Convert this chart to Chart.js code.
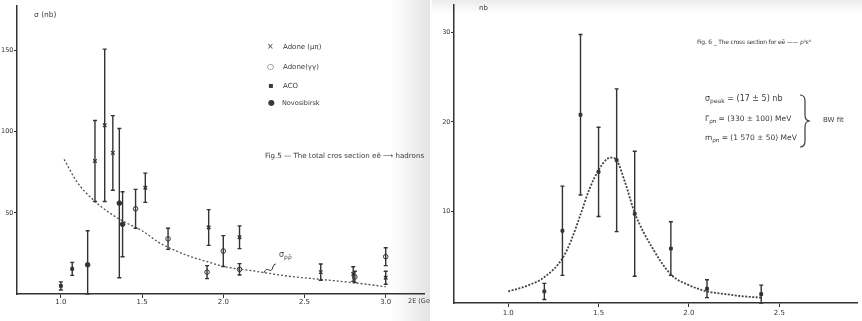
<!DOCTYPE html>
<html>
<head>
<meta charset="utf-8">
<script src="https://cdn.jsdelivr.net/npm/chart.js@4.4.0/dist/chart.umd.min.js"></script>
<style>
  body { margin: 0; width: 862px; height: 321px; background: #fff; overflow: hidden;
         font-family: "DejaVu Sans", sans-serif; color: #3a3a3a; }
  .panel { position: absolute; top: 0; width: 430px; height: 321px; overflow: hidden; }
  #left { left: 0; background: linear-gradient(to right, #fff 0, #fff 91%, #e4e4e4 100%); }
  #right { left: 432px; background: linear-gradient(to bottom, #ececec 0, #fff 14px); }
  .txt { position: absolute; white-space: nowrap; line-height: 1; }
  sub { font-size: 75%; vertical-align: -2px; }
</style>
</head>
<body>
<div id="left" class="panel">
  <canvas id="fig5" width="430" height="321"></canvas>
  <div class="txt" style="left:34px;top:11px;font-size:7.5px">σ (nb)</div>
  <div class="txt" style="left:267px;top:43px;font-size:8px">×</div>
  <div class="txt" style="left:283px;top:44px;font-size:7px">Adone (μπ)</div>
  <div class="txt" style="left:267px;top:63px;font-size:8px">○</div>
  <div class="txt" style="left:283px;top:64px;font-size:7px">Adone(γγ)</div>
  <div class="txt" style="left:268px;top:82px;font-size:8px">▪</div>
  <div class="txt" style="left:283px;top:83px;font-size:7px">ACO</div>
  <div class="txt" style="left:268px;top:99px;font-size:8px">●</div>
  <div class="txt" style="left:282px;top:100px;font-size:6.5px">Novosibirsk</div>
  <div class="txt" style="left:265px;top:152px;font-size:7.1px">Fig.5 — The total cros section eē ⟶ hadrons</div>
  <div class="txt" style="left:279px;top:251px;font-size:8px">σ<sub>ρρ̄</sub></div>
  <div class="txt" style="left:408px;top:298px;font-size:6.5px">2E (GeV)</div>
</div>
<div id="right" class="panel">
  <canvas id="fig6" width="430" height="321"></canvas>
  <div class="txt" style="left:47px;top:5px;font-size:7px">nb</div>
  <div class="txt" style="left:265px;top:39px;font-size:6px;letter-spacing:-0.2px">Fig. 6 _ The cross section for eē —— ρ⁰ε⁰</div>
  <div class="txt" style="left:273px;top:95px;font-size:8px">σ<sub>peak</sub> = (17 ± 5) nb</div>
  <div class="txt" style="left:273px;top:115px;font-size:7.5px">Γ<sub>ρπ</sub> = (330 ± 100) MeV</div>
  <div class="txt" style="left:273px;top:134px;font-size:7.5px">m<sub>ρπ</sub> = (1 570 ± 50) MeV</div>
  <svg class="txt" style="left:366px;top:93px" width="14" height="56">
    <path d="M2 2 Q7 2 7 8 L7 22 Q7 28 12 28 Q7 28 7 34 L7 48 Q7 54 2 54" fill="none" stroke="#3a3a3a" stroke-width="1.2"/>
  </svg>
  <div class="txt" style="left:391px;top:117px;font-size:7px">BW fit</div>
</div>
<script>
// ---- Fig.5 : total cross section e+e- -> hadrons ----
const adoneMuX = [1.21, 1.27, 1.32, 1.52, 1.91, 2.10, 2.60, 2.80, 3.00]
const adoneMuY = [82, 104, 87, 65.5, 41, 35, 13.5, 12.3, 10]
const adoneMuErr = [25, 47, 23, 9, 11, 7, 5, 4.5, 4]

const adoneGgX = [1.46, 1.66, 1.90, 2.00, 2.10, 2.81, 3.00]
const adoneGgY = [52.5, 34, 13.5, 26.5, 15.2, 10.5, 23]
const adoneGgErr = [12, 6.5, 4, 9.5, 3.5, 3.5, 5.5]

const acoX = [1.00, 1.07]
const acoY = [5, 15.5]
const acoErr = [2.5, 4]

const novoX = [1.165, 1.36, 1.38]
const novoY = [18, 56, 43]
const novoErr = [21, 46, 20]

const rhoRhoX = [1.02, 1.1, 1.2, 1.3, 1.4, 1.5, 1.6, 1.7, 1.8, 1.9, 2.0, 2.2, 2.4, 2.6, 2.8, 3.0]
const rhoRhoY = [83, 69, 58, 50, 44, 39, 32, 27, 23, 20, 17, 14, 11, 9, 7, 4.5]

const fig5XTicks = [1.0, 1.5, 2.0, 2.5, 3.0]
const fig5YTicks = [50, 100, 150]

// ---- Fig.6 : cross section e+e- -> rho0 eps0 ----
const fig6X = [1.2, 1.3, 1.4, 1.5, 1.6, 1.7, 1.9, 2.1, 2.4]
const fig6Y = [1.0, 7.8, 20.8, 14.4, 15.7, 9.7, 5.8, 1.3, 0.7]
const fig6Err = [0.9, 5, 9, 5, 8, 7, 3, 1, 1]

const bwX = [1.0, 1.1, 1.2, 1.3, 1.35, 1.4, 1.45, 1.5, 1.55, 1.57, 1.6, 1.65, 1.7, 1.8, 1.9, 2.0, 2.1, 2.2, 2.3, 2.4]
const bwY = [1.0, 1.6, 2.6, 4.7, 6.8, 9.6, 12.5, 14.6, 15.9, 16.0, 15.7, 13, 9.8, 5.8, 2.9, 1.7, 1.0, 0.7, 0.45, 0.3]

const fig6XTicks = [1.0, 1.5, 2.0, 2.5]
const fig6YTicks = [10, 20, 30]

const ink = '#333'

function pts(xs, ys) {
    return xs.map((x, i) => ({ x: x, y: ys[i] }))
}

// error bars with small caps
const errorBars = {
    id: 'errorBars',
    afterDatasetsDraw(chart) {
        const ctx = chart.ctx
        const xs = chart.scales.x, ys = chart.scales.y
        ctx.save()
        ctx.strokeStyle = ink
        ctx.lineWidth = 1.4
        chart.data.datasets.forEach(ds => {
            if (!ds.errs) return
            ds.data.forEach((p, i) => {
                const e = ds.errs[i]
                const px = xs.getPixelForValue(p.x)
                const top = ys.getPixelForValue(p.y + e)
                const bot = ys.getPixelForValue(Math.max(p.y - e, ys.min))
                ctx.beginPath()
                ctx.moveTo(px, top); ctx.lineTo(px, bot)
                ctx.moveTo(px - 2, top); ctx.lineTo(px + 2, top)
                ctx.moveTo(px - 2, bot); ctx.lineTo(px + 2, bot)
                ctx.stroke()
            })
        })
        ctx.restore()
    }
}

// little wavy pointer from the curve to the sigma label
const squiggle = {
    id: 'squiggle',
    afterDraw(chart) {
        if (chart.canvas.id != 'fig5') return
        const ctx = chart.ctx
        const x0 = chart.scales.x.getPixelForValue(2.25)
        const y0 = chart.scales.y.getPixelForValue(13)
        ctx.save()
        ctx.strokeStyle = ink
        ctx.lineWidth = 1
        ctx.beginPath()
        ctx.moveTo(x0, y0)
        ctx.quadraticCurveTo(x0 + 2, y0 - 5, x0 + 5, y0 - 3)
        ctx.quadraticCurveTo(x0 + 8, y0 - 1, x0 + 9, y0 - 6)
        ctx.quadraticCurveTo(x0 + 10, y0 - 9, x0 + 12, y0 - 9)
        ctx.stroke()
        ctx.restore()
    }
}

function axes(p) {
    return {
        x: {
            type: 'linear', min: p.xmin, max: p.xmax,
            afterBuildTicks: s => { s.ticks = p.xticks.map(v => ({ value: v })) },
            afterFit: s => { s.height = p.xh },
            ticks: { callback: v => v.toFixed(1), color: ink, font: { size: 7, family: 'DejaVu Sans' }, padding: p.xpad, maxRotation: 0 },
            grid: { drawOnChartArea: false, tickLength: 4, color: ink, lineWidth: 1 },
            border: { color: ink, width: 1.5 }
        },
        y: {
            type: 'linear', min: p.ymin, max: p.ymax,
            afterBuildTicks: s => { s.ticks = p.yticks.map(v => ({ value: v })) },
            afterFit: s => { s.width = p.yw },
            ticks: { color: ink, font: { size: 6.5, family: 'DejaVu Sans' }, padding: 0.5 },
            grid: { drawOnChartArea: false, tickLength: 3, color: ink, lineWidth: 1 },
            border: { color: ink, width: 1.5 }
        }
    }
}

const commonOpts = {
    responsive: false,
    animation: false,
    devicePixelRatio: 1,
    plugins: { legend: { display: false }, tooltip: { enabled: false } },
}

new Chart(document.getElementById('fig5'), {
    type: 'scatter',
    data: {
        datasets: [
            {
                label: 'rho rho', type: 'line', data: pts(rhoRhoX, rhoRhoY),
                borderColor: '#555', borderWidth: 1.3, borderDash: [2, 2],
                pointRadius: 0, tension: 0.4, cubicInterpolationMode: 'monotone', fill: false
            },
            {
                label: 'Adone (mu pi)', data: pts(adoneMuX, adoneMuY), errs: adoneMuErr,
                pointStyle: 'crossRot', pointRadius: 2.5, borderColor: ink, borderWidth: 1.3
            },
            {
                label: 'Adone (gamma gamma)', data: pts(adoneGgX, adoneGgY), errs: adoneGgErr,
                pointStyle: 'circle', pointRadius: 2.3, borderColor: ink, backgroundColor: '#fff', borderWidth: 1
            },
            {
                label: 'ACO', data: pts(acoX, acoY), errs: acoErr,
                pointStyle: 'rect', pointRadius: 2, borderColor: ink, backgroundColor: ink
            },
            {
                label: 'Novosibirsk', data: pts(novoX, novoY), errs: novoErr,
                pointStyle: 'circle', pointRadius: 2.3, borderColor: ink, backgroundColor: ink
            }
        ]
    },
    options: {
        ...commonOpts,
        layout: { padding: { top: 5, right: 0, left: 0, bottom: 0 } },
        scales: axes({ xmin: 0.73, xmax: 3.24, ymin: 0, ymax: 178, xticks: fig5XTicks, yticks: fig5YTicks, xh: 27, yw: 17, xpad: 0 })
    },
    plugins: [errorBars, squiggle]
})

new Chart(document.getElementById('fig6'), {
    type: 'scatter',
    data: {
        datasets: [
            {
                label: 'BW fit', type: 'line', data: pts(bwX, bwY),
                borderColor: '#444', borderWidth: 1.8, borderDash: [2, 1.5],
                pointRadius: 0, tension: 0.4, cubicInterpolationMode: 'monotone', fill: false
            },
            {
                label: 'data', data: pts(fig6X, fig6Y), errs: fig6Err,
                pointStyle: 'rect', pointRadius: 2, borderColor: ink, backgroundColor: ink
            }
        ]
    },
    options: {
        ...commonOpts,
        layout: { padding: { top: 4, right: 0, left: 0, bottom: 0 } },
        scales: axes({ xmin: 0.70, xmax: 2.93, ymin: -0.3, ymax: 33.1, xticks: fig6XTicks, yticks: fig6YTicks, xh: 18, yw: 22, xpad: 2 })
    },
    plugins: [errorBars]
})
</script>
</body>
</html>
